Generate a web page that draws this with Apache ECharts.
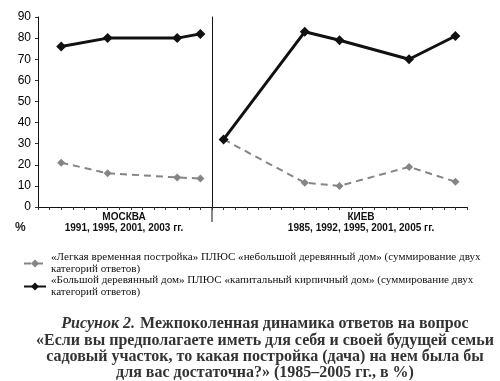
<!DOCTYPE html>
<html><head><meta charset="utf-8">
<script src="https://cdn.jsdelivr.net/npm/echarts@6/dist/echarts.min.js"></script>
<style>html,body{margin:0;padding:0;background:#fff}#c{width:500px;height:381px}</style>
</head><body><div id="c"></div>
<script>
// ---- data ----
const moscowYears = [1991, 1995, 2001, 2003];
const moscowLight = [21, 16, 14, 13.5];
const moscowHeavy = [76, 80, 80, 82];
const kievYears = [1985, 1992, 1995, 2001, 2005];
const kievLight = [32, 11.5, 10, 19, 12];
const kievHeavy = [32, 83, 79, 70, 81];
const yTicks = [0, 10, 20, 30, 40, 50, 60, 70, 80, 90];
const seriesNames = [
  '«Легкая временная постройка» ПЛЮС «небольшой деревянный дом» (суммирование двух категорий ответов)',
  '«Большой деревянный дом» ПЛЮС «капитальный кирпичный дом» (суммирование двух категорий ответов)'
];
const groupNames = ['МОСКВА', 'КИЕВ'];
const groupYears = ['1991, 1995, 2001, 2003 гг.', '1985, 1992, 1995, 2001, 2005 гг.'];

const zip = (xs, ys) => xs.map((x, i) => [x, ys[i]]);
const chart = echarts.init(document.getElementById('c'), null, {renderer: 'canvas'});

const axisFont = 'Liberation Sans, Arial, sans-serif';
const serif = 'Liberation Serif, Times New Roman, serif';

const lightStyle = {
  type: 'line', symbol: 'diamond', symbolSize: 8,
  lineStyle: {color: '#858585', width: 2, type: [7, 5]},
  itemStyle: {color: '#858585'}
};
const heavyStyle = {
  type: 'line', symbol: 'diamond', symbolSize: 10,
  lineStyle: {color: '#111', width: 3},
  itemStyle: {color: '#111'}
};

const xCommon = {
  type: 'value', interval: 1,
  axisLine: {lineStyle: {color: '#111', width: 1}},
  axisTick: {show: true, length: 3, inside: false, lineStyle: {color: '#333'}},
  axisLabel: {show: false},
  splitLine: {show: false}
};

const option = {
  animation: false,
  grid: [
    {left: 38, top: 17, width: 174, bottom: 174},
    {left: 212, top: 17, right: 33, bottom: 174}
  ],
  xAxis: [
    Object.assign({gridIndex: 0, min: 1989, max: 2004}, xCommon),
    Object.assign({gridIndex: 1, min: 1984, max: 2006}, xCommon)
  ],
  yAxis: [
    {gridIndex: 0, type: 'value', min: yTicks[0], max: yTicks[yTicks.length - 1], interval: 10,
     axisLine: {show: true, lineStyle: {color: '#111'}},
     axisTick: {show: true, length: 3, lineStyle: {color: '#333'}},
     axisLabel: {color: '#000', fontFamily: axisFont, fontSize: 12, margin: 7},
     splitLine: {show: false}},
    {gridIndex: 1, type: 'value', min: 0, max: 90, interval: 10,
     axisLine: {show: true, lineStyle: {color: '#111'}},
     axisTick: {show: false}, axisLabel: {show: false}, splitLine: {show: false}}
  ],
  legend: {
    orient: 'vertical', left: 18, top: 247, itemWidth: 22, itemHeight: 10, itemGap: 0,
    data: seriesNames,
    formatter: name => name.replace(' категорий', '\nкатегорий'),
    textStyle: {fontFamily: serif, fontSize: 11.1, color: '#111',
                lineHeight: 12, verticalAlign: 'top', padding: [-5, 0, 0, 0]},
    selectedMode: false
  },
  title: {
    left: 260, top: 310, textAlign: 'center',
    text: '{i|Рисунок 2.} {b|Межпоколенная динамика ответов на вопрос}\n' +
          '{b|«Если вы предполагаете иметь для себя и своей будущей семьи}\n' +
          '{b|садовый участок, то какая постройка (дача) на нем была бы}\n' +
          '{b|для вас достаточна?» (1985–2005 гг., в %)}',
    textStyle: {
      rich: {
        i: {fontFamily: serif, fontSize: 16, fontWeight: 'bold', fontStyle: 'italic', color: '#333', lineHeight: 16},
        b: {fontFamily: serif, fontSize: 16, fontWeight: 'bold', color: '#333', lineHeight: 16}
      }
    }
  },
  graphic: [
    {type: 'line', shape: {x1: 212, y1: 207, x2: 212, y2: 222}, style: {stroke: '#111', lineWidth: 1}},
    {type: 'text', left: 15, top: 222, style: {text: '%', font: 'bold 12px ' + axisFont, fill: '#222'}},
    {type: 'text', x: 124, y: 212, style: {text: groupNames[0] + '\n' + groupYears[0], font: 'bold 10px ' + axisFont,
      fill: '#111', align: 'center', lineHeight: 11}},
    {type: 'text', x: 361, y: 212, style: {text: groupNames[1] + '\n' + groupYears[1], font: 'bold 10px ' + axisFont,
      fill: '#111', align: 'center', lineHeight: 11}}
  ],
  series: [
    Object.assign({name: seriesNames[0], xAxisIndex: 0, yAxisIndex: 0, data: zip(moscowYears, moscowLight), z: 2}, lightStyle),
    Object.assign({name: seriesNames[1], xAxisIndex: 0, yAxisIndex: 0, data: zip(moscowYears, moscowHeavy), z: 3}, heavyStyle),
    Object.assign({name: seriesNames[0], xAxisIndex: 1, yAxisIndex: 1, data: zip(kievYears, kievLight), z: 2}, lightStyle),
    Object.assign({name: seriesNames[1], xAxisIndex: 1, yAxisIndex: 1, data: zip(kievYears, kievHeavy), z: 3}, heavyStyle)
  ]
};
chart.setOption(option);
</script></body></html>
